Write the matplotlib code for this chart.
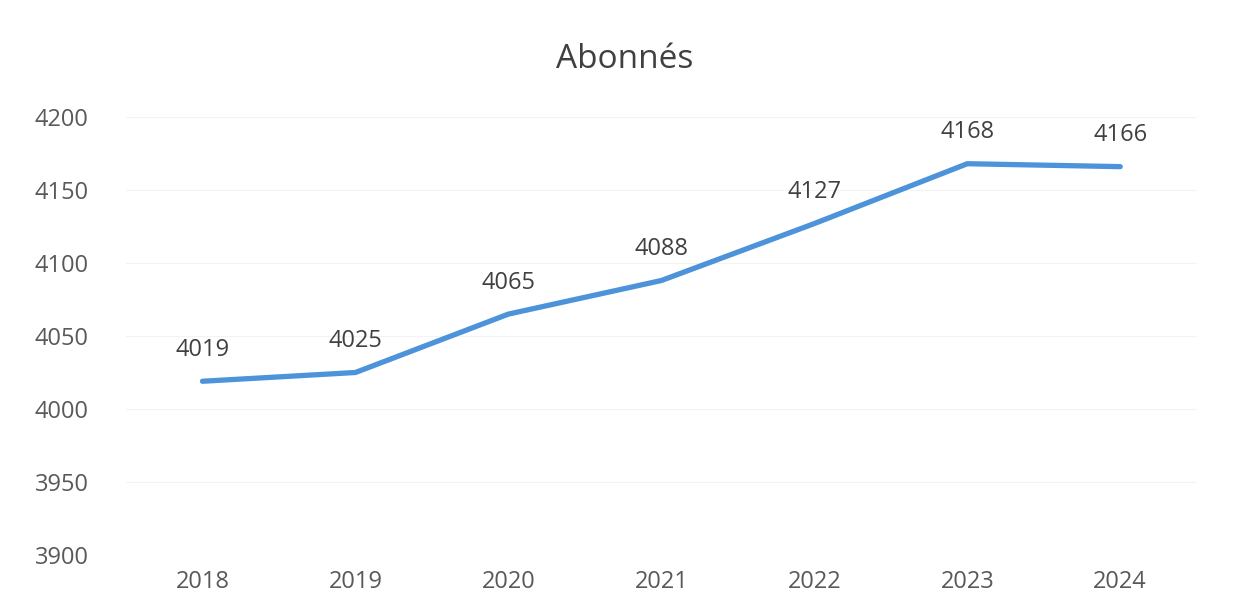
import matplotlib
matplotlib.use("Agg")
import matplotlib.pyplot as plt

years = ["2018", "2019", "2020", "2021", "2022", "2023", "2024"]
abonnes = [4019, 4025, 4065, 4088, 4127, 4168, 4166]
yticks = [3900, 3950, 4000, 4050, 4100, 4150, 4200]
title = "Abonnés"

plt.rcParams['font.family'] = ['Open Sans', 'DejaVu Sans']

fig = plt.figure(figsize=(12.35, 6), dpi=100)
ax = fig.add_axes([0.102, 0.075, 0.867, 0.730])

x = list(range(len(years)))
ax.plot(x, abonnes, color='#4d93d9', lw=3.8, solid_capstyle='round', solid_joinstyle='round', zorder=3)
for xi, v in zip(x, abonnes):
    ax.annotate(str(v), (xi, v), xytext=(0, 14), textcoords='offset points',
                ha='center', va='bottom', fontsize=17, color='#404040')

ax.set_xlim(-0.5, len(years) - 0.5)
ax.set_ylim(3900, 4200)
ax.set_yticks(yticks)
ax.set_xticks(x)
ax.set_xticklabels(years)
ax.tick_params(axis='both', length=0, labelsize=17, labelcolor='#595959')
ax.tick_params(axis='y', pad=27)
ax.tick_params(axis='x', pad=11)
ax.grid(axis='y', color='#f3f3f3', lw=0.8)
ax.set_axisbelow(True)
for s in ax.spines.values():
    s.set_visible(False)

fig.text(0.506, 0.9, title, ha='center', va='center', fontsize=24, color='#404040')

fig.savefig("out.png", dpi=100, facecolor='white')
